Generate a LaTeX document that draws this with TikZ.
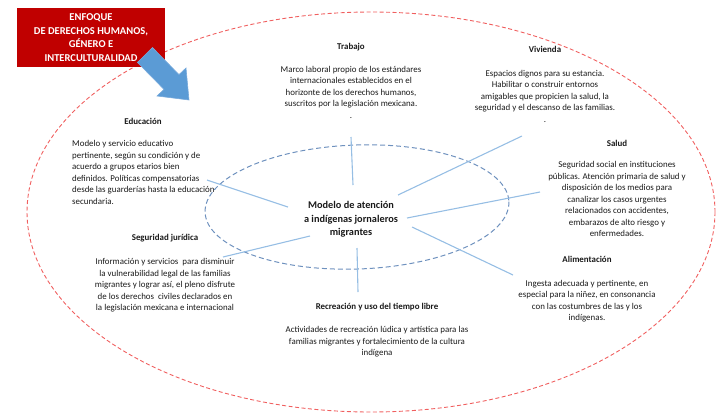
\documentclass[tikz,border=0pt]{standalone}
\usepackage{fontspec}
\setmainfont{Carlito}
\definecolor{redline}{RGB}{240,95,95}
\definecolor{boxred}{RGB}{192,0,0}
\definecolor{spoke}{RGB}{150,190,228}
\definecolor{innerell}{RGB}{110,145,190}
\definecolor{arrowblue}{RGB}{91,155,213}
\definecolor{arrowedge}{RGB}{120,170,220}
\definecolor{txt}{RGB}{25,25,25}
\begin{document}
\begin{tikzpicture}[x=1pt,y=-1pt,
  body/.style={font=\fontsize{8.9}{11.5}\selectfont, align=center, inner sep=0pt, anchor=north, text=txt},
  ttl/.style={font=\fontsize{8.9}{10}\selectfont\bfseries, inner sep=0pt, text=txt},
  spk/.style={draw=spoke, line width=1.1pt}]
\useasboundingbox (0,0) rectangle (722,416);
% outer red dashed ellipse
\draw[redline, dash pattern=on 4pt off 2.5pt, line width=0.9pt] (371,212) ellipse [x radius=344, y radius=200];
% inner blue dashed ellipse
\draw[innerell, dash pattern=on 5pt off 3pt, line width=1pt, rotate around={2:(357,207)}] (357,207) ellipse [x radius=152, y radius=62];
% spokes
\coordinate (t1) at (351,137); \coordinate (t2) at (353,185);
\coordinate (e1) at (207,180); \coordinate (e2) at (288,207);
\coordinate (s1) at (223,257); \coordinate (s2) at (310,236);
\coordinate (b1) at (357,248); \coordinate (b2) at (358,292);
\coordinate (v1) at (398,195); \coordinate (v2) at (522,136);
\coordinate (h1) at (407,218); \coordinate (h2) at (540,192);
\coordinate (a1) at (412,227); \coordinate (a2) at (513,275);
\draw[spk] (t1) -- (t2);
\draw[spk] (e1) -- (e2);
\draw[spk] (s1) -- (s2);
\draw[spk] (b1) -- (b2);
\draw[spk] (v1) -- (v2);
\draw[spk] (h1) -- (h2);
\draw[spk] (a1) -- (a2);
% center
\node[font=\fontsize{10.3}{13.5}\selectfont\bfseries, align=center, inner sep=0pt, text=txt] (ctr) at (351,219.5) {Modelo de atención\\a indígenas jornaleros\\migrantes};
% Trabajo
\node[ttl] (trt) at (351,47) {Trabajo};
\node[body] (trb) at (351,66) {Marco laboral propio de los estándares\\internacionales establecidos en el\\horizonte de los derechos humanos,\\suscritos por la legislación mexicana.\\.};
% Vivienda
\node[ttl] (vit) at (545,49) {Vivienda};
\node[body] (vib) at (545,70) {Espacios dignos para su estancia.\\Habilitar o construir entornos\\amigables que propicien la salud, la\\seguridad y el descanso de las familias.\\.};
% Educacion
\node[ttl] (edt) at (143,121) {Educación};
\node[body, align=left, anchor=north west] (edb) at (72,140.5) {Modelo y servicio educativo\\pertinente, según su condición y de\\acuerdo a grupos etarios bien\\definidos. Políticas compensatorias\\desde las guarderías hasta la educación\\secundaria.};
% Salud
\node[ttl] (sat) at (617,143) {Salud};
\node[body] (sab) at (617,161.5) {Seguridad social en instituciones\\públicas. Atención primaria de salud y\\disposición de los medios para\\canalizar los casos urgentes\\relacionados con accidentes,\\embarazos de alto riesgo y\\enfermedades.};
% Alimentacion
\node[ttl] (alt) at (587,259) {Alimentación};
\node[body] (alb) at (587,280) {Ingesta adecuada y pertinente, en\\especial para la niñez, en consonancia\\con las costumbres de las y los\\indígenas.};
% Seguridad juridica
\node[ttl] (sjt) at (165,238) {Seguridad jurídica};
\node[body] (sjb) at (165,258.5) {Información y servicios\ \ para disminuir\\la vulnerabilidad legal de las familias\\migrantes y lograr así, el pleno disfrute\\de los derechos\ \ civiles declarados en\\la legislación mexicana e internacional};
% Recreacion
\node[ttl] (ret) at (377,307) {Recreación y uso del tiempo libre};
\node[body] (reb) at (377,326.5) {Actividades de recreación lúdica y artística para las\\familias migrantes y fortalecimiento de la cultura\\indígena};
% red box
\node[fill=boxred, minimum width=148, minimum height=59, inner sep=0pt, align=center, text=white,
  font=\fontsize{10.5}{13.7}\selectfont\bfseries] (enf) at (91,37.5) {ENFOQUE\\DE DERECHOS HUMANOS,\\GÉNERO E\\INTERCULTURALIDAD};
% blue arrow
\filldraw[fill=arrowblue, draw=arrowedge, line width=0.6pt]
  (152.5,47.6) -- (179,74.6) -- (186,68) -- (189,100) -- (157,96) -- (164,89.4) -- (137.5,62.4) -- cycle;
\end{tikzpicture}
\end{document}
